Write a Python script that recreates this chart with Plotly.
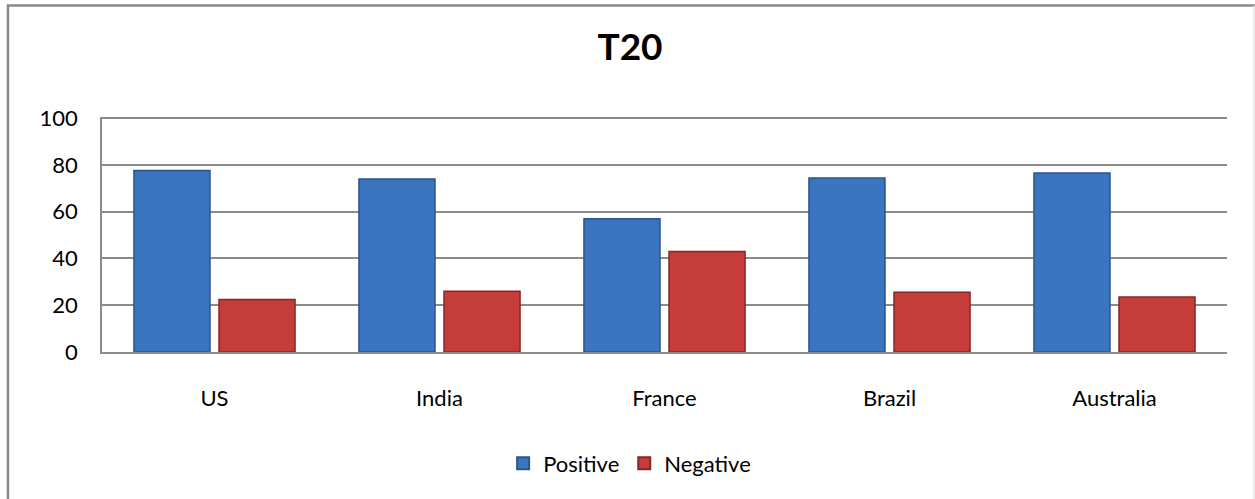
import plotly.graph_objects as go

# Share of positive / negative sentiment per country
categories = ["US", "India", "France", "Brazil", "Australia"]
positive = [77.6, 74.0, 57.0, 74.4, 76.5]
negative = [22.4, 26.0, 43.0, 25.6, 23.5]
y_ticks = [0, 20, 40, 60, 80, 100]

FONT = "Lato"
GRID = "#8c8c8c"

fig = go.Figure()
fig.add_trace(go.Bar(
    name="Positive", x=categories, y=positive,
    marker=dict(color="#3b74bf", line=dict(color="#2a5590", width=1.5)),
))
fig.add_trace(go.Bar(
    name="Negative", x=categories, y=negative,
    marker=dict(color="#c53d3b", line=dict(color="#8b2524", width=1.5)),
))

# Chart frame (left/top dark edge, faint right edge)
fig.add_shape(type="path", xref="paper", yref="paper",
              path="M -0.0836,-0.7 L -0.0836,1.4744 L 1.03,1.4744",
              line=dict(color="#8a8a8a", width=2.5))
fig.add_shape(type="line", xref="paper", yref="paper",
              x0=1.024, x1=1.024, y0=-0.7, y1=1.4744,
              line=dict(color="#e8e8e8", width=1.5))

fig.update_layout(
    width=1255, height=499,
    margin=dict(l=102, r=28, t=117, b=147),
    paper_bgcolor="white", plot_bgcolor="white",
    barmode="group", bargap=0.244, bargroupgap=0.106,
    font=dict(family=FONT, size=22, color="#000000"),
    title=dict(text="<b>T20</b>", x=0.502, xanchor="center",
               y=1 - 47 / 499, yanchor="middle",
               font=dict(family=FONT, size=37, color="#000000")),
    legend=dict(orientation="h", x=0.469, xanchor="center",
                y=-0.474, yanchor="middle",
                font=dict(family=FONT, size=22),
                itemsizing="constant", traceorder="normal"),
    showlegend=True,
)
fig.update_yaxes(range=[0, 100.5], tickvals=y_ticks,
                 showgrid=True, gridcolor=GRID, gridwidth=1.5,
                 showline=True, linecolor=GRID, linewidth=1.5,
                 zeroline=False, ticks="", ticklabelstandoff=18,
                 tickfont=dict(family=FONT, size=22))
fig.update_xaxes(showline=True, linecolor=GRID, linewidth=2,
                 showgrid=False, ticks="", ticklabelstandoff=26,
                 tickfont=dict(family=FONT, size=22))

fig.write_html("out.html")
